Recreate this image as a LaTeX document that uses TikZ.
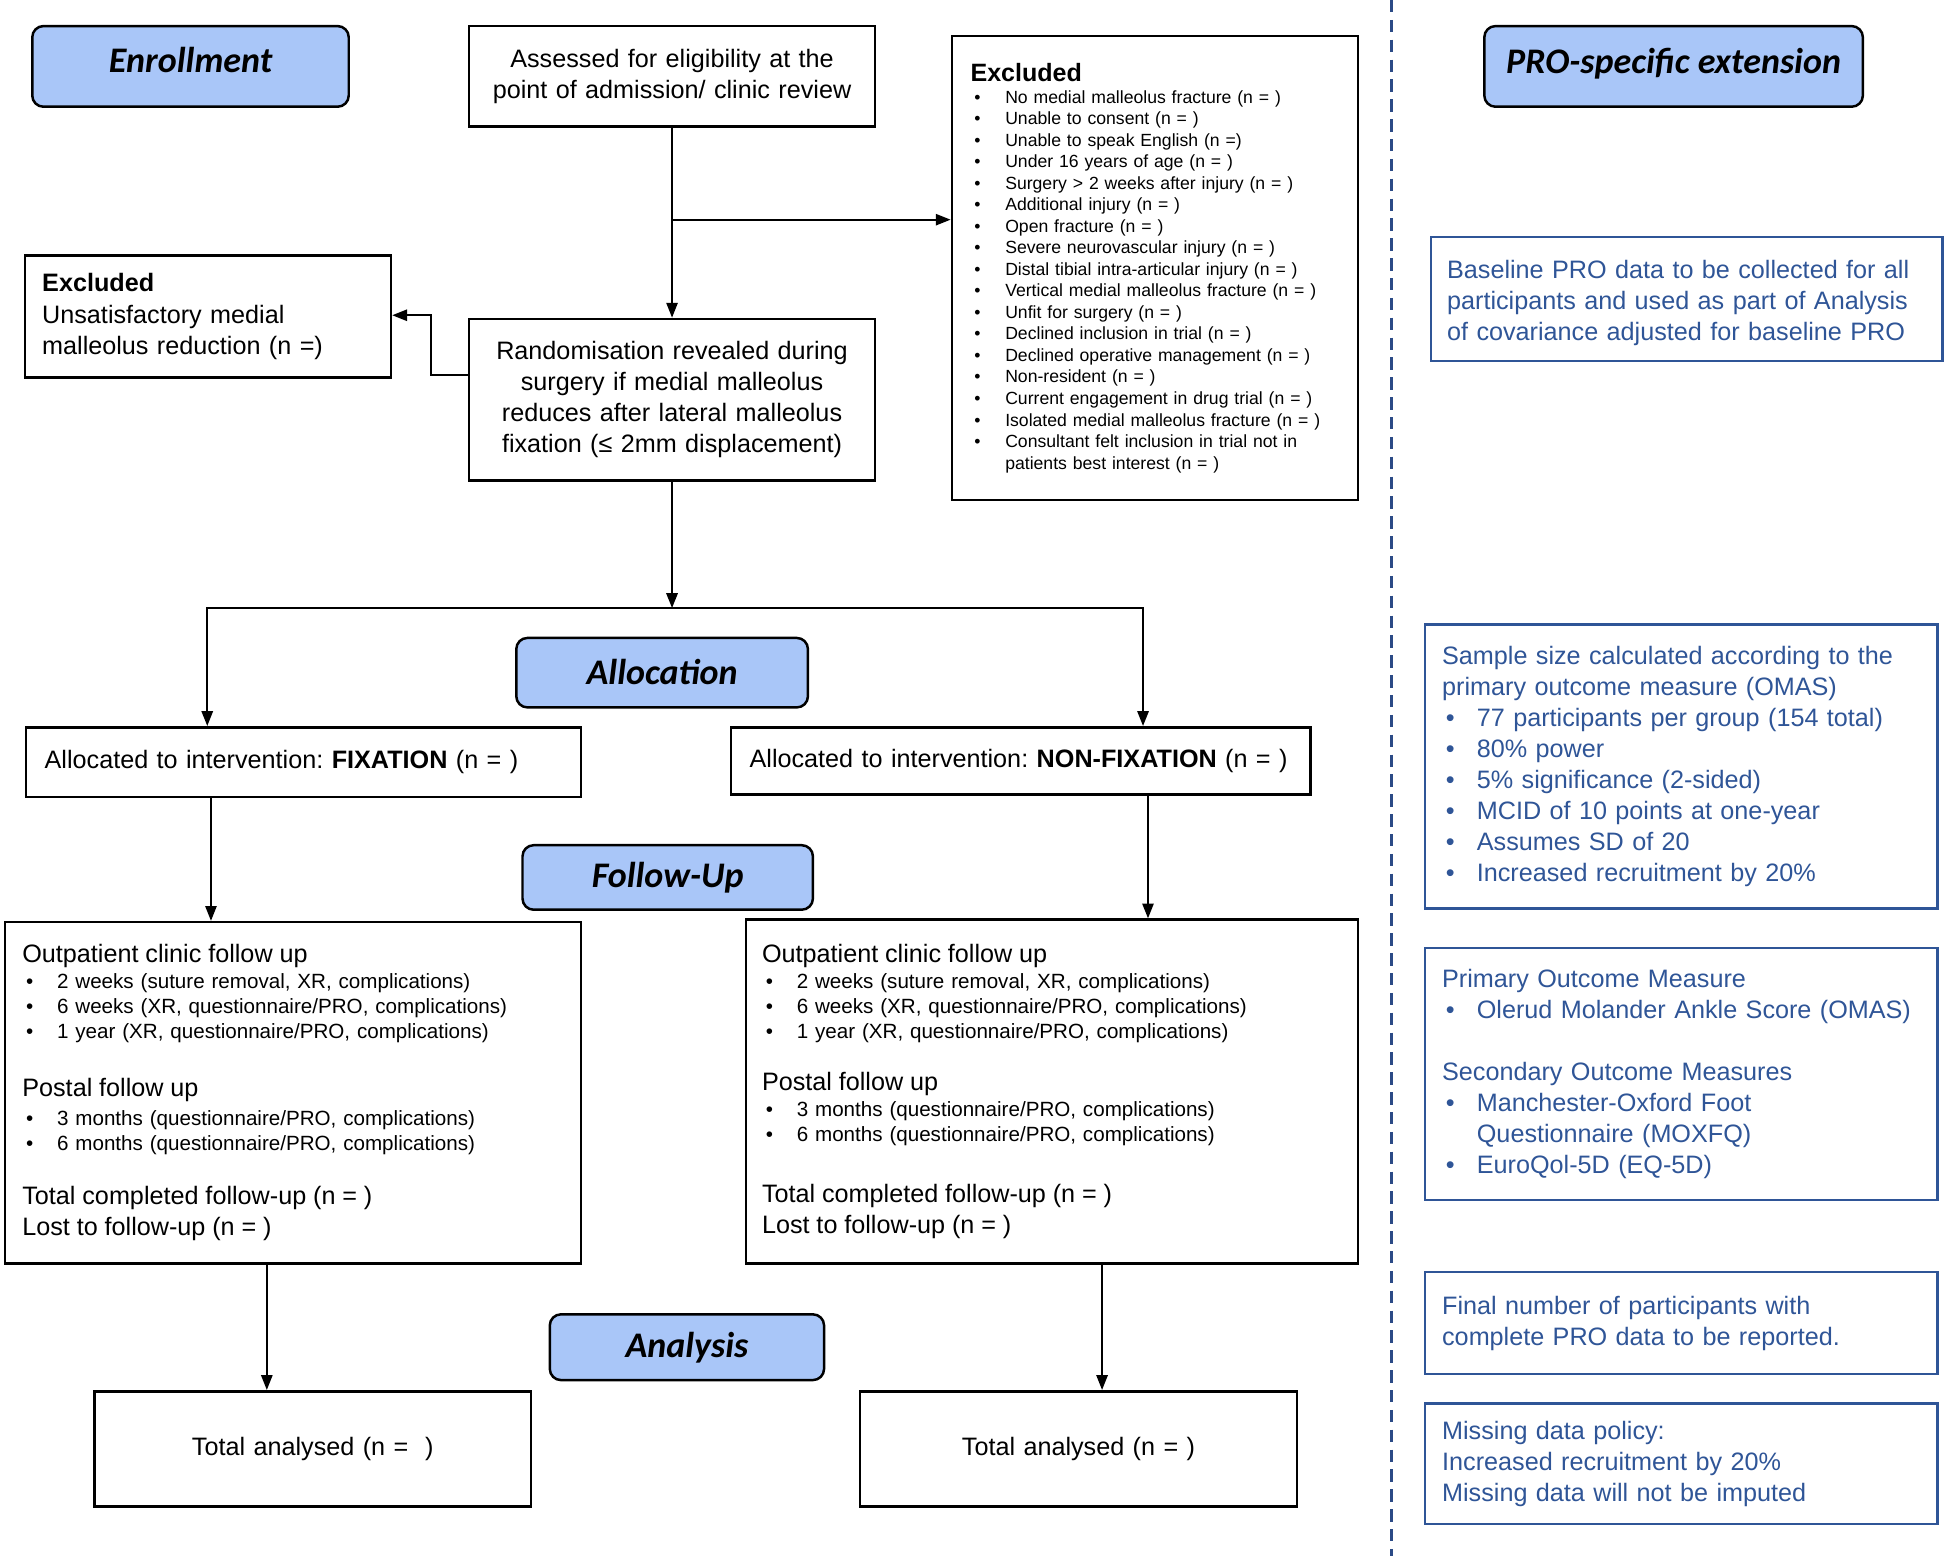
\documentclass[tikz,border=0pt]{standalone}
\usepackage{fontspec}
\setmainfont{Liberation Sans}
\newfontfamily\headfont{Carlito}
\usepackage{tikz}
\usetikzlibrary{arrows.meta,positioning,calc}
\definecolor{headblue}{HTML}{A9C6F8}
\definecolor{problue}{HTML}{2F5597}
\definecolor{divblue}{HTML}{2B4A86}
\frenchspacing
\newcommand{\bul}{\makebox[28pt][l]{\hspace{3pt}\textbullet}}
\newcommand{\ind}{\hspace*{28pt}}
\newcommand{\bigtxt}{\fontsize{20.3}{20}\selectfont}
\tikzset{box/.style={draw, line width=2pt, anchor=north west, inner ysep=0pt, inner xsep=14pt, align=left, font=\fontsize{20.3}{25}\selectfont},
  cbox/.style={box, align=center, inner xsep=10pt},
  probox/.style={box, draw=problue, text=problue, line width=2pt},
  stage/.style={draw, line width=2pt, rounded corners=9pt, fill=headblue, anchor=north west, inner sep=0pt, font=\headfont\bfseries\itshape\fontsize{29}{30}\selectfont},
  arr/.style={-{Triangle[length=12pt,width=9pt]}, line width=1.8pt}}

\begin{document}
\begin{tikzpicture}[x=1pt,y=-1pt]
\useasboundingbox (0,0) rectangle (1568,1254);

% stage labels
\node[stage, minimum width=255, minimum height=65] (enrol) at (25,20) {\raisebox{10pt}{Enrollment}};
\node[stage, minimum width=235, minimum height=56] (alloc) at (415,513) {\raisebox{2pt}{Allocation}};
\node[stage, minimum width=234, minimum height=52] (follow) at (420,680) {Follow-Up};
\node[stage, minimum width=221, minimum height=53] (analysis) at (442,1058) {Analysis};
\node[stage, minimum width=305, minimum height=65] (prohead) at (1195,20) {\raisebox{9pt}{PRO-specific extension}};

% enrollment
\node[cbox, text width=307, minimum height=81] (assess) at (377,20) {Assessed for eligibility at the\\point of admission/ clinic review};
\node[cbox, text width=307, minimum height=130] (rand) at (377,256) {Randomisation revealed during\\surgery if medial malleolus\\reduces after lateral malleolus\\fixation (≤ 2mm displacement)};
\node[box, text width=267, minimum height=98] (exclB) at (19,205) {\textbf{Excluded}\\Unsatisfactory medial\\malleolus reduction (n =)};
\node[box, inner xsep=15pt, text width=297, minimum height=374, font=\fontsize{14.2}{17.35}\selectfont] (exclA) at (766,28) {%
{\fontsize{20.2}{17}\selectfont\bfseries Excluded}\\[0pt]
\bul No medial malleolus fracture (n = )\\
\bul Unable to consent (n = )\\
\bul Unable to speak English (n =)\\
\bul Under 16 years of age (n = )\\
\bul Surgery > 2 weeks after injury (n = )\\
\bul Additional injury (n = )\\
\bul Open fracture (n = )\\
\bul Severe neurovascular injury (n = )\\
\bul Distal tibial intra-articular injury (n = )\\
\bul Vertical medial malleolus fracture (n = )\\
\bul Unfit for surgery (n = )\\
\bul Declined inclusion in trial (n = )\\
\bul Declined operative management (n = )\\
\bul Non-resident (n = )\\
\bul Current engagement in drug trial (n = )\\
\bul Isolated medial malleolus fracture (n = )\\
\bul Consultant felt inclusion in trial not in\\
\ind patients best interest (n = )\\[6pt]};

% allocation
\node[box, inner xsep=15pt, text width=417, minimum height=56] (fix) at (20,585) {Allocated to intervention: \textbf{FIXATION} (n = )};
\node[box, inner xsep=15pt, text width=437, minimum height=54] (nonfix) at (588,585) {Allocated to intervention: \textbf{NON-FIXATION} (n = )};

% follow-up
\node[box, text width=436, minimum height=275, font=\fontsize{16.6}{20}\selectfont] (fuL) at (3,742) {%
{\bigtxt Outpatient clinic follow up}\\[1pt]
\bul 2 weeks (suture removal, XR, complications)\\
\bul 6 weeks (XR, questionnaire/PRO, complications)\\
\bul 1 year (XR, questionnaire/PRO, complications)\\[27pt]
{\bigtxt Postal follow up}\\[3pt]
\bul 3 months (questionnaire/PRO, complications)\\
\bul 6 months (questionnaire/PRO, complications)\\[24pt]
{\bigtxt Total completed follow-up (n = )}\\[5pt]
{\bigtxt Lost to follow-up (n = )}};
\node[box, inner xsep=13pt, text width=467, minimum height=277, font=\fontsize{16.6}{20}\selectfont] (fuR) at (600,740) {%
{\bigtxt Outpatient clinic follow up}\\[1pt]
\bul 2 weeks (suture removal, XR, complications)\\
\bul 6 weeks (XR, questionnaire/PRO, complications)\\
\bul 1 year (XR, questionnaire/PRO, complications)\\[22pt]
{\bigtxt Postal follow up}\\[1pt]
\bul 3 months (questionnaire/PRO, complications)\\
\bul 6 months (questionnaire/PRO, complications)\\[29pt]
{\bigtxt Total completed follow-up (n = )}\\[5pt]
{\bigtxt Lost to follow-up (n = )}};

% analysis
\node[cbox, text width=332, minimum height=93] (anL) at (75,1120) {Total analysed (n =~~)};
\node[cbox, text width=332, minimum height=93] (anR) at (692,1120) {Total analysed (n = )};

% PRO extension
\node[probox, inner xsep=13pt, text width=386, minimum height=100] (base) at (1152,190) {\\[-4pt]Baseline PRO data to be collected for all\\participants and used as part of Analysis\\of covariance adjusted for baseline PRO};
\node[probox, text width=385, minimum height=229] (sample) at (1147,502) {Sample size calculated according to the\\primary outcome measure (OMAS)\\
\bul 77 participants per group (154 total)\\
\bul 80\% power\\
\bul 5\% significance (2-sided)\\
\bul MCID of 10 points at one-year\\
\bul Assumes SD of 20\\
\bul Increased recruitment by 20\%};
\node[probox, text width=385, minimum height=203] (outcome) at (1147,763) {Primary Outcome Measure\\
\bul Olerud Molander Ankle Score (OMAS)\\[25pt]
Secondary Outcome Measures\\
\bul Manchester-Oxford Foot\\
\ind Questionnaire (MOXFQ)\\
\bul EuroQol-5D (EQ-5D)};
\node[probox, text width=385, minimum height=82] (final) at (1147,1024) {Final number of participants with\\complete PRO data to be reported.};
\node[probox, text width=385, minimum height=97] (missing) at (1147,1130) {Missing data policy:\\Increased recruitment by 20\%\\Missing data will not be imputed};

% divider
\draw[divblue, line width=2pt, dash pattern=on 10pt off 6pt] (1121,0) -- (1121,1254);

% connectors
\coordinate (ybr) at (0,177);
\coordinate (yout) at (0,302);
\coordinate (yin) at (0,254);
\coordinate (ysplit) at (0,490);
\coordinate (xa) at (167,0);
\coordinate (xb) at (921,0);
\coordinate (xc) at (170,0);
\coordinate (xd) at (925,0);
\coordinate (xe) at (215,0);
\coordinate (xf) at (888,0);
\coordinate (split) at (rand.south |- ysplit);

\draw[arr] (assess) -- (rand);
\draw[arr] (assess.south |- ybr) -- (exclA.west |- ybr);
\draw[arr] (rand.west |- yout) -- ++(-30,0) |- (exclB.east |- yin);
\draw[arr] (rand) -- (split);
\draw[arr] (split) -| (fix.north -| xa);
\draw[arr] (split) -| (nonfix.north -| xb);
\draw[arr] (fix.south -| xc) -- (fuL.north -| xc);
\draw[arr] (nonfix.south -| xd) -- (fuR.north -| xd);
\draw[arr] (fuL.south -| xe) -- (anL.north -| xe);
\draw[arr] (fuR.south -| xf) -- (anR.north -| xf);
\end{tikzpicture}
\end{document}
